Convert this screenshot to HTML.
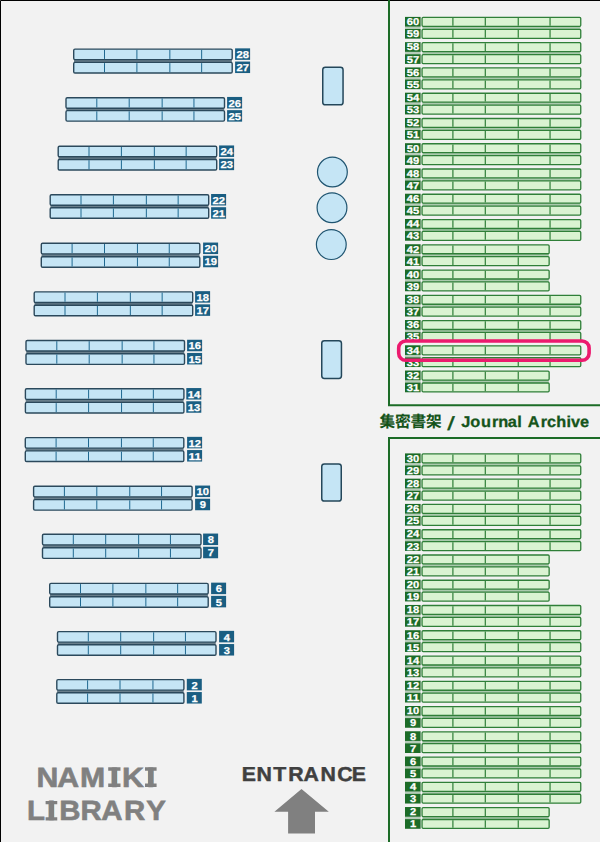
<!DOCTYPE html>
<html lang="ja">
<head>
<meta charset="utf-8">
<title>NAMIKI LIBRARY - Journal Archive map</title>
<style>
html,body{margin:0;padding:0;background:#f2f2f2;}
body{width:600px;height:842px;overflow:hidden;font-family:"Liberation Sans",sans-serif;}
svg{display:block;position:absolute;left:0;top:0;}
text{font-family:"Liberation Sans",sans-serif;font-weight:bold;text-rendering:geometricPrecision;}
.bs{fill:#c5e5f5;stroke:#2b495c;stroke-width:1.4;}
.bsd{fill:none;stroke:#1f6890;stroke-width:1;}
.bl{fill:#1a5e82;}
.gs{fill:#daf3d2;stroke:#2f7f38;stroke-width:1.3;}
.gsd{fill:none;stroke:#2f7f38;stroke-width:1.2;}
.gb{fill:#1c6c27;}
.gl{fill:none;stroke:#1c6c27;stroke-width:2;}
.fr{fill:#c5e5f5;stroke:#24475a;stroke-width:1.5;}
.fc{fill:#c5e5f5;stroke:#1f5470;stroke-width:1.2;}
.n{fill:#fff;stroke:#fff;stroke-width:.25;font-size:10px;text-anchor:middle;}
.ja{fill:#15541a;stroke:#15541a;stroke-width:.3;}
.jp{font-family:"Liberation Sans","Noto Sans CJK JP",sans-serif;fill:#15541a;stroke:#15541a;stroke-width:.08;}
.sl{fill:#15541a;font-weight:normal;stroke:#15541a;stroke-width:.35;}
.nm{fill:#808080;stroke:#808080;stroke-width:.6;}
.en{fill:#404040;stroke:#404040;stroke-width:.45;}
</style>
</head>
<body>
<svg width="600" height="842" viewBox="0 0 600 842">
<rect width="600" height="842" fill="#f2f2f2"/>
<g id="stacks-blue">
<rect x="74" y="59.6" width="157.9" height="2.7" fill="#687e8b"/>
<rect class="bs" x="73.7" y="49.1" width="158.5" height="10.55" rx="1.3"/>
<path class="bsd" d="M104.5 49.8V58.95M136.9 49.8V58.95M169.85 49.8V58.95M201.65 49.8V58.95"/>
<rect class="bl" x="235.1" y="48.35" width="15" height="11.5"/>
<text class="n" x="242.8" y="58.05" textLength="12.5" lengthAdjust="spacingAndGlyphs">28</text>
<rect class="bs" x="73.7" y="62.4" width="158.5" height="10.55" rx="1.3"/>
<path class="bsd" d="M104.5 63.1V72.25M136.9 63.1V72.25M169.85 63.1V72.25M201.65 63.1V72.25"/>
<rect class="bl" x="235.1" y="61.55" width="15" height="11.5"/>
<text class="n" x="242.8" y="71.25" textLength="12.5" lengthAdjust="spacingAndGlyphs">27</text>
<rect x="66.3" y="108.2" width="157.9" height="2.3" fill="#687e8b"/>
<rect class="bs" x="66" y="97.7" width="158.5" height="10.55" rx="1.3"/>
<path class="bsd" d="M96.8 98.4V107.55M129.2 98.4V107.55M162.15 98.4V107.55M193.95 98.4V107.55"/>
<rect class="bl" x="227.1" y="96.95" width="15" height="11.5"/>
<text class="n" x="234.8" y="106.65" textLength="12.5" lengthAdjust="spacingAndGlyphs">26</text>
<rect class="bs" x="66" y="110.6" width="158.5" height="10.55" rx="1.3"/>
<path class="bsd" d="M96.8 111.3V120.45M129.2 111.3V120.45M162.15 111.3V120.45M193.95 111.3V120.45"/>
<rect class="bl" x="227.1" y="110.15" width="15" height="11.5"/>
<text class="n" x="234.8" y="119.85" textLength="12.5" lengthAdjust="spacingAndGlyphs">25</text>
<rect x="58.5" y="156.7" width="157.9" height="2.7" fill="#687e8b"/>
<rect class="bs" x="58.2" y="146.2" width="158.5" height="10.55" rx="1.3"/>
<path class="bsd" d="M89 146.9V156.05M121.4 146.9V156.05M154.35 146.9V156.05M186.15 146.9V156.05"/>
<rect class="bl" x="219.1" y="145.45" width="15" height="11.5"/>
<text class="n" x="226.8" y="155.15" textLength="12.5" lengthAdjust="spacingAndGlyphs">24</text>
<rect class="bs" x="58.2" y="159.5" width="158.5" height="10.55" rx="1.3"/>
<path class="bsd" d="M89 160.2V169.35M121.4 160.2V169.35M154.35 160.2V169.35M186.15 160.2V169.35"/>
<rect class="bl" x="219.1" y="158.65" width="15" height="11.5"/>
<text class="n" x="226.8" y="168.35" textLength="12.5" lengthAdjust="spacingAndGlyphs">23</text>
<rect x="50.5" y="205.25" width="157.9" height="2.35" fill="#687e8b"/>
<rect class="bs" x="50.2" y="194.75" width="158.5" height="10.55" rx="1.3"/>
<path class="bsd" d="M81 195.45V204.6M113.4 195.45V204.6M146.35 195.45V204.6M178.15 195.45V204.6"/>
<rect class="bl" x="211.1" y="194" width="15" height="11.5"/>
<text class="n" x="218.8" y="203.7" textLength="12.5" lengthAdjust="spacingAndGlyphs">22</text>
<rect class="bs" x="50.2" y="207.7" width="158.5" height="10.55" rx="1.3"/>
<path class="bsd" d="M81 208.4V217.55M113.4 208.4V217.55M146.35 208.4V217.55M178.15 208.4V217.55"/>
<rect class="bl" x="211.1" y="207.2" width="15" height="11.5"/>
<text class="n" x="218.8" y="216.9" textLength="12.5" lengthAdjust="spacingAndGlyphs">21</text>
<rect x="41.6" y="253.8" width="157.9" height="2.8" fill="#687e8b"/>
<rect class="bs" x="41.3" y="243.3" width="158.5" height="10.55" rx="1.3"/>
<path class="bsd" d="M72.1 244V253.15M104.5 244V253.15M137.45 244V253.15M169.25 244V253.15"/>
<rect class="bl" x="203.1" y="242.55" width="15" height="11.5"/>
<text class="n" x="210.8" y="252.25" textLength="12.5" lengthAdjust="spacingAndGlyphs">20</text>
<rect class="bs" x="41.3" y="256.7" width="158.5" height="10.55" rx="1.3"/>
<path class="bsd" d="M72.1 257.4V266.55M104.5 257.4V266.55M137.45 257.4V266.55M169.25 257.4V266.55"/>
<rect class="bl" x="203.1" y="255.75" width="15" height="11.5"/>
<text class="n" x="210.8" y="265.45" textLength="12.5" lengthAdjust="spacingAndGlyphs">19</text>
<rect x="34.5" y="302.4" width="157.9" height="2.7" fill="#687e8b"/>
<rect class="bs" x="34.2" y="291.9" width="158.5" height="10.55" rx="1.3"/>
<path class="bsd" d="M65 292.6V301.75M97.4 292.6V301.75M130.35 292.6V301.75M162.15 292.6V301.75"/>
<rect class="bl" x="195.1" y="291.15" width="15" height="11.5"/>
<text class="n" x="202.8" y="300.85" textLength="12.5" lengthAdjust="spacingAndGlyphs">18</text>
<rect class="bs" x="34.2" y="305.2" width="158.5" height="10.55" rx="1.3"/>
<path class="bsd" d="M65 305.9V315.05M97.4 305.9V315.05M130.35 305.9V315.05M162.15 305.9V315.05"/>
<rect class="bl" x="195.1" y="304.35" width="15" height="11.5"/>
<text class="n" x="202.8" y="314.05" textLength="12.5" lengthAdjust="spacingAndGlyphs">17</text>
<rect x="26.3" y="351" width="157.9" height="2.7" fill="#687e8b"/>
<rect class="bs" x="26" y="340.5" width="158.5" height="10.55" rx="1.3"/>
<path class="bsd" d="M56.8 341.2V350.35M89.2 341.2V350.35M122.15 341.2V350.35M153.95 341.2V350.35"/>
<rect class="bl" x="187.1" y="339.75" width="15" height="11.5"/>
<text class="n" x="194.8" y="349.45" textLength="12.5" lengthAdjust="spacingAndGlyphs">16</text>
<rect class="bs" x="26" y="353.8" width="158.5" height="10.55" rx="1.3"/>
<path class="bsd" d="M56.8 354.5V363.65M89.2 354.5V363.65M122.15 354.5V363.65M153.95 354.5V363.65"/>
<rect class="bl" x="187.1" y="352.95" width="15" height="11.5"/>
<text class="n" x="194.8" y="362.65" textLength="12.5" lengthAdjust="spacingAndGlyphs">15</text>
<rect x="25.7" y="399.3" width="157.9" height="3" fill="#687e8b"/>
<rect class="bs" x="25.4" y="388.8" width="158.5" height="10.55" rx="1.3"/>
<path class="bsd" d="M56.2 389.5V398.65M88.6 389.5V398.65M121.55 389.5V398.65M153.35 389.5V398.65"/>
<rect class="bl" x="186.3" y="388.05" width="15" height="11.5"/>
<text class="n" x="194" y="397.75" textLength="12.5" lengthAdjust="spacingAndGlyphs">14</text>
<rect class="bs" x="25.4" y="402.4" width="158.5" height="10.55" rx="1.3"/>
<path class="bsd" d="M56.2 403.1V412.25M88.6 403.1V412.25M121.55 403.1V412.25M153.35 403.1V412.25"/>
<rect class="bl" x="186.3" y="401.25" width="15" height="11.5"/>
<text class="n" x="194" y="410.95" textLength="12.5" lengthAdjust="spacingAndGlyphs">13</text>
<rect x="25.6" y="448.1" width="157.9" height="2.7" fill="#687e8b"/>
<rect class="bs" x="25.3" y="437.6" width="158.5" height="10.55" rx="1.3"/>
<path class="bsd" d="M56.1 438.3V447.45M88.5 438.3V447.45M121.45 438.3V447.45M153.25 438.3V447.45"/>
<rect class="bl" x="187.1" y="436.85" width="15" height="11.5"/>
<text class="n" x="194.8" y="446.55" textLength="12.5" lengthAdjust="spacingAndGlyphs">12</text>
<rect class="bs" x="25.3" y="450.9" width="158.5" height="10.55" rx="1.3"/>
<path class="bsd" d="M56.1 451.6V460.75M88.5 451.6V460.75M121.45 451.6V460.75M153.25 451.6V460.75"/>
<rect class="bl" x="187.1" y="450.05" width="15" height="11.5"/>
<text class="n" x="194.8" y="459.75" textLength="12.5" lengthAdjust="spacingAndGlyphs">11</text>
<rect x="33.9" y="496.8" width="157.9" height="2.7" fill="#687e8b"/>
<rect class="bs" x="33.6" y="486.3" width="158.5" height="10.55" rx="1.3"/>
<path class="bsd" d="M64.4 487V496.15M96.8 487V496.15M129.75 487V496.15M161.55 487V496.15"/>
<rect class="bl" x="195.1" y="485.55" width="15" height="11.5"/>
<text class="n" x="202.8" y="495.25" textLength="12.5" lengthAdjust="spacingAndGlyphs">10</text>
<rect class="bs" x="33.6" y="499.6" width="158.5" height="10.55" rx="1.3"/>
<path class="bsd" d="M64.4 500.3V509.45M96.8 500.3V509.45M129.75 500.3V509.45M161.55 500.3V509.45"/>
<rect class="bl" x="195.1" y="498.75" width="15" height="11.5"/>
<text class="n" x="202.8" y="508.45" textLength="6.2" lengthAdjust="spacingAndGlyphs">9</text>
<rect x="42.8" y="544.8" width="157.9" height="2.9" fill="#687e8b"/>
<rect class="bs" x="42.5" y="534.3" width="158.5" height="10.55" rx="1.3"/>
<path class="bsd" d="M73.3 535V544.15M105.7 535V544.15M138.65 535V544.15M170.45 535V544.15"/>
<rect class="bl" x="203.1" y="533.55" width="15" height="11.5"/>
<text class="n" x="210.8" y="543.25" textLength="6.2" lengthAdjust="spacingAndGlyphs">8</text>
<rect class="bs" x="42.5" y="547.8" width="158.5" height="10.55" rx="1.3"/>
<path class="bsd" d="M73.3 548.5V557.65M105.7 548.5V557.65M138.65 548.5V557.65M170.45 548.5V557.65"/>
<rect class="bl" x="203.1" y="546.75" width="15" height="11.5"/>
<text class="n" x="210.8" y="556.45" textLength="6.2" lengthAdjust="spacingAndGlyphs">7</text>
<rect x="50" y="593.9" width="157.9" height="2.7" fill="#687e8b"/>
<rect class="bs" x="49.7" y="583.4" width="158.5" height="10.55" rx="1.3"/>
<path class="bsd" d="M80.5 584.1V593.25M112.9 584.1V593.25M145.85 584.1V593.25M177.65 584.1V593.25"/>
<rect class="bl" x="211.1" y="582.65" width="15" height="11.5"/>
<text class="n" x="218.8" y="592.35" textLength="6.2" lengthAdjust="spacingAndGlyphs">6</text>
<rect class="bs" x="49.7" y="596.7" width="158.5" height="10.55" rx="1.3"/>
<path class="bsd" d="M80.5 597.4V606.55M112.9 597.4V606.55M145.85 597.4V606.55M177.65 597.4V606.55"/>
<rect class="bl" x="211.1" y="595.85" width="15" height="11.5"/>
<text class="n" x="218.8" y="605.55" textLength="6.2" lengthAdjust="spacingAndGlyphs">5</text>
<rect x="57.8" y="642.1" width="157.9" height="2.5" fill="#687e8b"/>
<rect class="bs" x="57.5" y="631.6" width="158.5" height="10.55" rx="1.3"/>
<path class="bsd" d="M88.3 632.3V641.45M120.7 632.3V641.45M153.65 632.3V641.45M185.45 632.3V641.45"/>
<rect class="bl" x="219.1" y="630.85" width="15" height="11.5"/>
<text class="n" x="226.8" y="640.55" textLength="6.2" lengthAdjust="spacingAndGlyphs">4</text>
<rect class="bs" x="57.5" y="644.7" width="158.5" height="10.55" rx="1.3"/>
<path class="bsd" d="M88.3 645.4V654.55M120.7 645.4V654.55M153.65 645.4V654.55M185.45 645.4V654.55"/>
<rect class="bl" x="219.1" y="644.05" width="15" height="11.5"/>
<text class="n" x="226.8" y="653.75" textLength="6.2" lengthAdjust="spacingAndGlyphs">3</text>
<rect x="57.1" y="690.1" width="126.5" height="2.5" fill="#687e8b"/>
<rect class="bs" x="56.8" y="679.6" width="127.1" height="10.55" rx="1.3"/>
<path class="bsd" d="M87.6 680.3V689.45M120 680.3V689.45M152.95 680.3V689.45"/>
<rect class="bl" x="186.8" y="678.85" width="15" height="11.5"/>
<text class="n" x="194.5" y="688.55" textLength="6.2" lengthAdjust="spacingAndGlyphs">2</text>
<rect class="bs" x="56.8" y="692.7" width="127.1" height="10.55" rx="1.3"/>
<path class="bsd" d="M87.6 693.4V702.55M120 693.4V702.55M152.95 693.4V702.55"/>
<rect class="bl" x="186.8" y="692.05" width="15" height="11.5"/>
<text class="n" x="194.5" y="701.75" textLength="6.2" lengthAdjust="spacingAndGlyphs">1</text>
</g>
<g id="furniture">
<rect class="fr" x="322.75" y="67.25" width="20.3" height="37.5" rx="2.6"/>
<rect class="fr" x="321.75" y="340.75" width="19.7" height="37.7" rx="2.6"/>
<rect class="fr" x="321.75" y="463.95" width="19.5" height="37.1" rx="2.6"/>
<circle class="fc" cx="332.4" cy="172" r="14.9"/>
<circle class="fc" cx="332" cy="207.7" r="14.9"/>
<circle class="fc" cx="331.3" cy="244.6" r="14.9"/>
</g>
<g id="stacks-green">
<rect x="422.4" y="25.9" width="158" height="3.8" fill="#6fa874" fill-opacity=".55"/>
<rect x="405" y="25.9" width="15.6" height="3.5" fill="#1c6c27" fill-opacity=".28"/>
<rect class="gs" x="422.05" y="17.45" width="158.7" height="8.95" rx="1.1"/>
<path class="gsd" d="M452.9 18.1V25.75M485.3 18.1V25.75M518.25 18.1V25.75M550.05 18.1V25.75"/>
<rect class="gb" x="405" y="16.9" width="15.6" height="9.65"/>
<text class="n" x="413" y="25.2" textLength="12.5" lengthAdjust="spacingAndGlyphs">60</text>
<rect class="gs" x="422.05" y="29.35" width="158.7" height="8.95" rx="1.1"/>
<path class="gsd" d="M452.9 30V37.65M485.3 30V37.65M518.25 30V37.65M550.05 30V37.65"/>
<rect class="gb" x="405" y="29" width="15.6" height="9.65"/>
<text class="n" x="413" y="37.3" textLength="12.5" lengthAdjust="spacingAndGlyphs">59</text>
<rect x="422.4" y="51.16" width="158" height="3.8" fill="#6fa874" fill-opacity=".55"/>
<rect x="405" y="51.16" width="15.6" height="3.5" fill="#1c6c27" fill-opacity=".28"/>
<rect class="gs" x="422.05" y="42.71" width="158.7" height="8.95" rx="1.1"/>
<path class="gsd" d="M452.9 43.36V51.01M485.3 43.36V51.01M518.25 43.36V51.01M550.05 43.36V51.01"/>
<rect class="gb" x="405" y="42.16" width="15.6" height="9.65"/>
<text class="n" x="413" y="50.46" textLength="12.5" lengthAdjust="spacingAndGlyphs">58</text>
<rect class="gs" x="422.05" y="54.61" width="158.7" height="8.95" rx="1.1"/>
<path class="gsd" d="M452.9 55.26V62.91M485.3 55.26V62.91M518.25 55.26V62.91M550.05 55.26V62.91"/>
<rect class="gb" x="405" y="54.26" width="15.6" height="9.65"/>
<text class="n" x="413" y="62.56" textLength="12.5" lengthAdjust="spacingAndGlyphs">57</text>
<rect x="422.4" y="76.42" width="158" height="3.8" fill="#6fa874" fill-opacity=".55"/>
<rect x="405" y="76.42" width="15.6" height="3.5" fill="#1c6c27" fill-opacity=".28"/>
<rect class="gs" x="422.05" y="67.97" width="158.7" height="8.95" rx="1.1"/>
<path class="gsd" d="M452.9 68.62V76.27M485.3 68.62V76.27M518.25 68.62V76.27M550.05 68.62V76.27"/>
<rect class="gb" x="405" y="67.42" width="15.6" height="9.65"/>
<text class="n" x="413" y="75.72" textLength="12.5" lengthAdjust="spacingAndGlyphs">56</text>
<rect class="gs" x="422.05" y="79.87" width="158.7" height="8.95" rx="1.1"/>
<path class="gsd" d="M452.9 80.52V88.17M485.3 80.52V88.17M518.25 80.52V88.17M550.05 80.52V88.17"/>
<rect class="gb" x="405" y="79.52" width="15.6" height="9.65"/>
<text class="n" x="413" y="87.82" textLength="12.5" lengthAdjust="spacingAndGlyphs">55</text>
<rect x="422.4" y="101.68" width="158" height="3.8" fill="#6fa874" fill-opacity=".55"/>
<rect x="405" y="101.68" width="15.6" height="3.5" fill="#1c6c27" fill-opacity=".28"/>
<rect class="gs" x="422.05" y="93.23" width="158.7" height="8.95" rx="1.1"/>
<path class="gsd" d="M452.9 93.88V101.53M485.3 93.88V101.53M518.25 93.88V101.53M550.05 93.88V101.53"/>
<rect class="gb" x="405" y="92.68" width="15.6" height="9.65"/>
<text class="n" x="413" y="100.98" textLength="12.5" lengthAdjust="spacingAndGlyphs">54</text>
<rect class="gs" x="422.05" y="105.13" width="158.7" height="8.95" rx="1.1"/>
<path class="gsd" d="M452.9 105.78V113.43M485.3 105.78V113.43M518.25 105.78V113.43M550.05 105.78V113.43"/>
<rect class="gb" x="405" y="104.78" width="15.6" height="9.65"/>
<text class="n" x="413" y="113.08" textLength="12.5" lengthAdjust="spacingAndGlyphs">53</text>
<rect x="422.4" y="126.94" width="158" height="3.8" fill="#6fa874" fill-opacity=".55"/>
<rect x="405" y="126.94" width="15.6" height="3.5" fill="#1c6c27" fill-opacity=".28"/>
<rect class="gs" x="422.05" y="118.49" width="158.7" height="8.95" rx="1.1"/>
<path class="gsd" d="M452.9 119.14V126.79M485.3 119.14V126.79M518.25 119.14V126.79M550.05 119.14V126.79"/>
<rect class="gb" x="405" y="117.94" width="15.6" height="9.65"/>
<text class="n" x="413" y="126.24" textLength="12.5" lengthAdjust="spacingAndGlyphs">52</text>
<rect class="gs" x="422.05" y="130.39" width="158.7" height="8.95" rx="1.1"/>
<path class="gsd" d="M452.9 131.04V138.69M485.3 131.04V138.69M518.25 131.04V138.69M550.05 131.04V138.69"/>
<rect class="gb" x="405" y="130.04" width="15.6" height="9.65"/>
<text class="n" x="413" y="138.34" textLength="12.5" lengthAdjust="spacingAndGlyphs">51</text>
<rect x="422.4" y="152.2" width="158" height="3.8" fill="#6fa874" fill-opacity=".55"/>
<rect x="405" y="152.2" width="15.6" height="3.5" fill="#1c6c27" fill-opacity=".28"/>
<rect class="gs" x="422.05" y="143.75" width="158.7" height="8.95" rx="1.1"/>
<path class="gsd" d="M452.9 144.4V152.05M485.3 144.4V152.05M518.25 144.4V152.05M550.05 144.4V152.05"/>
<rect class="gb" x="405" y="143.2" width="15.6" height="9.65"/>
<text class="n" x="413" y="151.5" textLength="12.5" lengthAdjust="spacingAndGlyphs">50</text>
<rect class="gs" x="422.05" y="155.65" width="158.7" height="8.95" rx="1.1"/>
<path class="gsd" d="M452.9 156.3V163.95M485.3 156.3V163.95M518.25 156.3V163.95M550.05 156.3V163.95"/>
<rect class="gb" x="405" y="155.3" width="15.6" height="9.65"/>
<text class="n" x="413" y="163.6" textLength="12.5" lengthAdjust="spacingAndGlyphs">49</text>
<rect x="422.4" y="177.46" width="158" height="3.8" fill="#6fa874" fill-opacity=".55"/>
<rect x="405" y="177.46" width="15.6" height="3.5" fill="#1c6c27" fill-opacity=".28"/>
<rect class="gs" x="422.05" y="169.01" width="158.7" height="8.95" rx="1.1"/>
<path class="gsd" d="M452.9 169.66V177.31M485.3 169.66V177.31M518.25 169.66V177.31M550.05 169.66V177.31"/>
<rect class="gb" x="405" y="168.46" width="15.6" height="9.65"/>
<text class="n" x="413" y="176.76" textLength="12.5" lengthAdjust="spacingAndGlyphs">48</text>
<rect class="gs" x="422.05" y="180.91" width="158.7" height="8.95" rx="1.1"/>
<path class="gsd" d="M452.9 181.56V189.21M485.3 181.56V189.21M518.25 181.56V189.21M550.05 181.56V189.21"/>
<rect class="gb" x="405" y="180.56" width="15.6" height="9.65"/>
<text class="n" x="413" y="188.86" textLength="12.5" lengthAdjust="spacingAndGlyphs">47</text>
<rect x="422.4" y="202.72" width="158" height="3.8" fill="#6fa874" fill-opacity=".55"/>
<rect x="405" y="202.72" width="15.6" height="3.5" fill="#1c6c27" fill-opacity=".28"/>
<rect class="gs" x="422.05" y="194.27" width="158.7" height="8.95" rx="1.1"/>
<path class="gsd" d="M452.9 194.92V202.57M485.3 194.92V202.57M518.25 194.92V202.57M550.05 194.92V202.57"/>
<rect class="gb" x="405" y="193.72" width="15.6" height="9.65"/>
<text class="n" x="413" y="202.02" textLength="12.5" lengthAdjust="spacingAndGlyphs">46</text>
<rect class="gs" x="422.05" y="206.17" width="158.7" height="8.95" rx="1.1"/>
<path class="gsd" d="M452.9 206.82V214.47M485.3 206.82V214.47M518.25 206.82V214.47M550.05 206.82V214.47"/>
<rect class="gb" x="405" y="205.82" width="15.6" height="9.65"/>
<text class="n" x="413" y="214.12" textLength="12.5" lengthAdjust="spacingAndGlyphs">45</text>
<rect x="422.4" y="227.98" width="158" height="3.8" fill="#6fa874" fill-opacity=".55"/>
<rect x="405" y="227.98" width="15.6" height="3.5" fill="#1c6c27" fill-opacity=".28"/>
<rect class="gs" x="422.05" y="219.53" width="158.7" height="8.95" rx="1.1"/>
<path class="gsd" d="M452.9 220.18V227.83M485.3 220.18V227.83M518.25 220.18V227.83M550.05 220.18V227.83"/>
<rect class="gb" x="405" y="218.98" width="15.6" height="9.65"/>
<text class="n" x="413" y="227.28" textLength="12.5" lengthAdjust="spacingAndGlyphs">44</text>
<rect class="gs" x="422.05" y="231.43" width="158.7" height="8.95" rx="1.1"/>
<path class="gsd" d="M452.9 232.08V239.73M485.3 232.08V239.73M518.25 232.08V239.73M550.05 232.08V239.73"/>
<rect class="gb" x="405" y="231.08" width="15.6" height="9.65"/>
<text class="n" x="413" y="239.38" textLength="12.5" lengthAdjust="spacingAndGlyphs">43</text>
<rect x="422.4" y="253.24" width="126.4" height="3.8" fill="#6fa874" fill-opacity=".55"/>
<rect x="405" y="253.24" width="15.6" height="3.5" fill="#1c6c27" fill-opacity=".28"/>
<rect class="gs" x="422.05" y="244.79" width="127.1" height="8.95" rx="1.1"/>
<path class="gsd" d="M452.9 245.44V253.09M485.3 245.44V253.09M518.25 245.44V253.09"/>
<rect class="gb" x="405" y="244.24" width="15.6" height="9.65"/>
<text class="n" x="413" y="252.54" textLength="12.5" lengthAdjust="spacingAndGlyphs">42</text>
<rect class="gs" x="422.05" y="256.69" width="127.1" height="8.95" rx="1.1"/>
<path class="gsd" d="M452.9 257.34V264.99M485.3 257.34V264.99M518.25 257.34V264.99"/>
<rect class="gb" x="405" y="256.34" width="15.6" height="9.65"/>
<text class="n" x="413" y="264.64" textLength="12.5" lengthAdjust="spacingAndGlyphs">41</text>
<rect x="422.4" y="278.5" width="126.4" height="3.8" fill="#6fa874" fill-opacity=".55"/>
<rect x="405" y="278.5" width="15.6" height="3.5" fill="#1c6c27" fill-opacity=".28"/>
<rect class="gs" x="422.05" y="270.05" width="127.1" height="8.95" rx="1.1"/>
<path class="gsd" d="M452.9 270.7V278.35M485.3 270.7V278.35M518.25 270.7V278.35"/>
<rect class="gb" x="405" y="269.5" width="15.6" height="9.65"/>
<text class="n" x="413" y="277.8" textLength="12.5" lengthAdjust="spacingAndGlyphs">40</text>
<rect class="gs" x="422.05" y="281.95" width="127.1" height="8.95" rx="1.1"/>
<path class="gsd" d="M452.9 282.6V290.25M485.3 282.6V290.25M518.25 282.6V290.25"/>
<rect class="gb" x="405" y="281.6" width="15.6" height="9.65"/>
<text class="n" x="413" y="289.9" textLength="12.5" lengthAdjust="spacingAndGlyphs">39</text>
<rect x="422.4" y="303.76" width="158" height="3.8" fill="#6fa874" fill-opacity=".55"/>
<rect x="405" y="303.76" width="15.6" height="3.5" fill="#1c6c27" fill-opacity=".28"/>
<rect class="gs" x="422.05" y="295.31" width="158.7" height="8.95" rx="1.1"/>
<path class="gsd" d="M452.9 295.96V303.61M485.3 295.96V303.61M518.25 295.96V303.61M550.05 295.96V303.61"/>
<rect class="gb" x="405" y="294.76" width="15.6" height="9.65"/>
<text class="n" x="413" y="303.06" textLength="12.5" lengthAdjust="spacingAndGlyphs">38</text>
<rect class="gs" x="422.05" y="307.21" width="158.7" height="8.95" rx="1.1"/>
<path class="gsd" d="M452.9 307.86V315.51M485.3 307.86V315.51M518.25 307.86V315.51M550.05 307.86V315.51"/>
<rect class="gb" x="405" y="306.86" width="15.6" height="9.65"/>
<text class="n" x="413" y="315.16" textLength="12.5" lengthAdjust="spacingAndGlyphs">37</text>
<rect x="422.4" y="329.02" width="158" height="3.8" fill="#6fa874" fill-opacity=".55"/>
<rect x="405" y="329.02" width="15.6" height="3.5" fill="#1c6c27" fill-opacity=".28"/>
<rect class="gs" x="422.05" y="320.57" width="158.7" height="8.95" rx="1.1"/>
<path class="gsd" d="M452.9 321.22V328.87M485.3 321.22V328.87M518.25 321.22V328.87M550.05 321.22V328.87"/>
<rect class="gb" x="405" y="320.02" width="15.6" height="9.65"/>
<text class="n" x="413" y="328.32" textLength="12.5" lengthAdjust="spacingAndGlyphs">36</text>
<rect class="gs" x="422.05" y="332.47" width="158.7" height="8.95" rx="1.1"/>
<path class="gsd" d="M452.9 333.12V340.77M485.3 333.12V340.77M518.25 333.12V340.77M550.05 333.12V340.77"/>
<rect class="gb" x="405" y="332.12" width="15.6" height="9.65"/>
<text class="n" x="413" y="340.42" textLength="12.5" lengthAdjust="spacingAndGlyphs">35</text>
<rect x="405" y="354.28" width="15.6" height="3.5" fill="#1c6c27" fill-opacity=".28"/>
<rect class="gs" x="422.05" y="345.83" width="158.7" height="8.95" rx="1.1"/>
<path class="gsd" d="M452.9 346.48V354.13M485.3 346.48V354.13M518.25 346.48V354.13M550.05 346.48V354.13"/>
<rect class="gb" x="405" y="345.28" width="15.6" height="9.65"/>
<text class="n" x="413" y="353.58" textLength="12.5" lengthAdjust="spacingAndGlyphs">34</text>
<rect class="gs" x="422.05" y="357.73" width="158.7" height="8.95" rx="1.1"/>
<path class="gsd" d="M452.9 358.38V366.03M485.3 358.38V366.03M518.25 358.38V366.03M550.05 358.38V366.03"/>
<rect class="gb" x="405" y="357.38" width="15.6" height="9.65"/>
<text class="n" x="413" y="365.68" textLength="12.5" lengthAdjust="spacingAndGlyphs">33</text>
<rect x="422.4" y="379.54" width="126.4" height="3.8" fill="#6fa874" fill-opacity=".55"/>
<rect x="405" y="379.54" width="15.6" height="3.5" fill="#1c6c27" fill-opacity=".28"/>
<rect class="gs" x="422.05" y="371.09" width="127.1" height="8.95" rx="1.1"/>
<path class="gsd" d="M452.9 371.74V379.39M485.3 371.74V379.39M518.25 371.74V379.39"/>
<rect class="gb" x="405" y="370.54" width="15.6" height="9.65"/>
<text class="n" x="413" y="378.84" textLength="12.5" lengthAdjust="spacingAndGlyphs">32</text>
<rect class="gs" x="422.05" y="382.99" width="127.1" height="8.95" rx="1.1"/>
<path class="gsd" d="M452.9 383.64V391.29M485.3 383.64V391.29M518.25 383.64V391.29"/>
<rect class="gb" x="405" y="382.64" width="15.6" height="9.65"/>
<text class="n" x="413" y="390.94" textLength="12.5" lengthAdjust="spacingAndGlyphs">31</text>
<rect x="422.4" y="462.4" width="158" height="3.8" fill="#6fa874" fill-opacity=".55"/>
<rect x="405" y="462.4" width="15.6" height="3.5" fill="#1c6c27" fill-opacity=".28"/>
<rect class="gs" x="422.05" y="453.95" width="158.7" height="8.95" rx="1.1"/>
<path class="gsd" d="M452.9 454.6V462.25M485.3 454.6V462.25M518.25 454.6V462.25M550.05 454.6V462.25"/>
<rect class="gb" x="405" y="453.4" width="15.6" height="9.65"/>
<text class="n" x="413" y="461.7" textLength="12.5" lengthAdjust="spacingAndGlyphs">30</text>
<rect class="gs" x="422.05" y="465.85" width="158.7" height="8.95" rx="1.1"/>
<path class="gsd" d="M452.9 466.5V474.15M485.3 466.5V474.15M518.25 466.5V474.15M550.05 466.5V474.15"/>
<rect class="gb" x="405" y="465.5" width="15.6" height="9.65"/>
<text class="n" x="413" y="473.8" textLength="12.5" lengthAdjust="spacingAndGlyphs">29</text>
<rect x="422.4" y="487.66" width="158" height="3.8" fill="#6fa874" fill-opacity=".55"/>
<rect x="405" y="487.66" width="15.6" height="3.5" fill="#1c6c27" fill-opacity=".28"/>
<rect class="gs" x="422.05" y="479.21" width="158.7" height="8.95" rx="1.1"/>
<path class="gsd" d="M452.9 479.86V487.51M485.3 479.86V487.51M518.25 479.86V487.51M550.05 479.86V487.51"/>
<rect class="gb" x="405" y="478.66" width="15.6" height="9.65"/>
<text class="n" x="413" y="486.96" textLength="12.5" lengthAdjust="spacingAndGlyphs">28</text>
<rect class="gs" x="422.05" y="491.11" width="158.7" height="8.95" rx="1.1"/>
<path class="gsd" d="M452.9 491.76V499.41M485.3 491.76V499.41M518.25 491.76V499.41M550.05 491.76V499.41"/>
<rect class="gb" x="405" y="490.76" width="15.6" height="9.65"/>
<text class="n" x="413" y="499.06" textLength="12.5" lengthAdjust="spacingAndGlyphs">27</text>
<rect x="422.4" y="512.92" width="158" height="3.8" fill="#6fa874" fill-opacity=".55"/>
<rect x="405" y="512.92" width="15.6" height="3.5" fill="#1c6c27" fill-opacity=".28"/>
<rect class="gs" x="422.05" y="504.47" width="158.7" height="8.95" rx="1.1"/>
<path class="gsd" d="M452.9 505.12V512.77M485.3 505.12V512.77M518.25 505.12V512.77M550.05 505.12V512.77"/>
<rect class="gb" x="405" y="503.92" width="15.6" height="9.65"/>
<text class="n" x="413" y="512.22" textLength="12.5" lengthAdjust="spacingAndGlyphs">26</text>
<rect class="gs" x="422.05" y="516.37" width="158.7" height="8.95" rx="1.1"/>
<path class="gsd" d="M452.9 517.02V524.67M485.3 517.02V524.67M518.25 517.02V524.67M550.05 517.02V524.67"/>
<rect class="gb" x="405" y="516.02" width="15.6" height="9.65"/>
<text class="n" x="413" y="524.32" textLength="12.5" lengthAdjust="spacingAndGlyphs">25</text>
<rect x="422.4" y="538.18" width="158" height="3.8" fill="#6fa874" fill-opacity=".55"/>
<rect x="405" y="538.18" width="15.6" height="3.5" fill="#1c6c27" fill-opacity=".28"/>
<rect class="gs" x="422.05" y="529.73" width="158.7" height="8.95" rx="1.1"/>
<path class="gsd" d="M452.9 530.38V538.03M485.3 530.38V538.03M518.25 530.38V538.03M550.05 530.38V538.03"/>
<rect class="gb" x="405" y="529.18" width="15.6" height="9.65"/>
<text class="n" x="413" y="537.48" textLength="12.5" lengthAdjust="spacingAndGlyphs">24</text>
<rect class="gs" x="422.05" y="541.63" width="158.7" height="8.95" rx="1.1"/>
<path class="gsd" d="M452.9 542.28V549.93M485.3 542.28V549.93M518.25 542.28V549.93M550.05 542.28V549.93"/>
<rect class="gb" x="405" y="541.28" width="15.6" height="9.65"/>
<text class="n" x="413" y="549.58" textLength="12.5" lengthAdjust="spacingAndGlyphs">23</text>
<rect x="422.4" y="563.44" width="126.4" height="3.8" fill="#6fa874" fill-opacity=".55"/>
<rect x="405" y="563.44" width="15.6" height="3.5" fill="#1c6c27" fill-opacity=".28"/>
<rect class="gs" x="422.05" y="554.99" width="127.1" height="8.95" rx="1.1"/>
<path class="gsd" d="M452.9 555.64V563.29M485.3 555.64V563.29M518.25 555.64V563.29"/>
<rect class="gb" x="405" y="554.44" width="15.6" height="9.65"/>
<text class="n" x="413" y="562.74" textLength="12.5" lengthAdjust="spacingAndGlyphs">22</text>
<rect class="gs" x="422.05" y="566.89" width="127.1" height="8.95" rx="1.1"/>
<path class="gsd" d="M452.9 567.54V575.19M485.3 567.54V575.19M518.25 567.54V575.19"/>
<rect class="gb" x="405" y="566.54" width="15.6" height="9.65"/>
<text class="n" x="413" y="574.84" textLength="12.5" lengthAdjust="spacingAndGlyphs">21</text>
<rect x="422.4" y="588.7" width="126.4" height="3.8" fill="#6fa874" fill-opacity=".55"/>
<rect x="405" y="588.7" width="15.6" height="3.5" fill="#1c6c27" fill-opacity=".28"/>
<rect class="gs" x="422.05" y="580.25" width="127.1" height="8.95" rx="1.1"/>
<path class="gsd" d="M452.9 580.9V588.55M485.3 580.9V588.55M518.25 580.9V588.55"/>
<rect class="gb" x="405" y="579.7" width="15.6" height="9.65"/>
<text class="n" x="413" y="588" textLength="12.5" lengthAdjust="spacingAndGlyphs">20</text>
<rect class="gs" x="422.05" y="592.15" width="127.1" height="8.95" rx="1.1"/>
<path class="gsd" d="M452.9 592.8V600.45M485.3 592.8V600.45M518.25 592.8V600.45"/>
<rect class="gb" x="405" y="591.8" width="15.6" height="9.65"/>
<text class="n" x="413" y="600.1" textLength="12.5" lengthAdjust="spacingAndGlyphs">19</text>
<rect x="422.4" y="613.96" width="158" height="3.8" fill="#6fa874" fill-opacity=".55"/>
<rect x="405" y="613.96" width="15.6" height="3.5" fill="#1c6c27" fill-opacity=".28"/>
<rect class="gs" x="422.05" y="605.51" width="158.7" height="8.95" rx="1.1"/>
<path class="gsd" d="M452.9 606.16V613.81M485.3 606.16V613.81M518.25 606.16V613.81M550.05 606.16V613.81"/>
<rect class="gb" x="405" y="604.96" width="15.6" height="9.65"/>
<text class="n" x="413" y="613.26" textLength="12.5" lengthAdjust="spacingAndGlyphs">18</text>
<rect class="gs" x="422.05" y="617.41" width="158.7" height="8.95" rx="1.1"/>
<path class="gsd" d="M452.9 618.06V625.71M485.3 618.06V625.71M518.25 618.06V625.71M550.05 618.06V625.71"/>
<rect class="gb" x="405" y="617.06" width="15.6" height="9.65"/>
<text class="n" x="413" y="625.36" textLength="12.5" lengthAdjust="spacingAndGlyphs">17</text>
<rect x="422.4" y="639.22" width="158" height="3.8" fill="#6fa874" fill-opacity=".55"/>
<rect x="405" y="639.22" width="15.6" height="3.5" fill="#1c6c27" fill-opacity=".28"/>
<rect class="gs" x="422.05" y="630.77" width="158.7" height="8.95" rx="1.1"/>
<path class="gsd" d="M452.9 631.42V639.07M485.3 631.42V639.07M518.25 631.42V639.07M550.05 631.42V639.07"/>
<rect class="gb" x="405" y="630.22" width="15.6" height="9.65"/>
<text class="n" x="413" y="638.52" textLength="12.5" lengthAdjust="spacingAndGlyphs">16</text>
<rect class="gs" x="422.05" y="642.67" width="158.7" height="8.95" rx="1.1"/>
<path class="gsd" d="M452.9 643.32V650.97M485.3 643.32V650.97M518.25 643.32V650.97M550.05 643.32V650.97"/>
<rect class="gb" x="405" y="642.32" width="15.6" height="9.65"/>
<text class="n" x="413" y="650.62" textLength="12.5" lengthAdjust="spacingAndGlyphs">15</text>
<rect x="422.4" y="664.48" width="158" height="3.8" fill="#6fa874" fill-opacity=".55"/>
<rect x="405" y="664.48" width="15.6" height="3.5" fill="#1c6c27" fill-opacity=".28"/>
<rect class="gs" x="422.05" y="656.03" width="158.7" height="8.95" rx="1.1"/>
<path class="gsd" d="M452.9 656.68V664.33M485.3 656.68V664.33M518.25 656.68V664.33M550.05 656.68V664.33"/>
<rect class="gb" x="405" y="655.48" width="15.6" height="9.65"/>
<text class="n" x="413" y="663.78" textLength="12.5" lengthAdjust="spacingAndGlyphs">14</text>
<rect class="gs" x="422.05" y="667.93" width="158.7" height="8.95" rx="1.1"/>
<path class="gsd" d="M452.9 668.58V676.23M485.3 668.58V676.23M518.25 668.58V676.23M550.05 668.58V676.23"/>
<rect class="gb" x="405" y="667.58" width="15.6" height="9.65"/>
<text class="n" x="413" y="675.88" textLength="12.5" lengthAdjust="spacingAndGlyphs">13</text>
<rect x="422.4" y="689.74" width="158" height="3.8" fill="#6fa874" fill-opacity=".55"/>
<rect x="405" y="689.74" width="15.6" height="3.5" fill="#1c6c27" fill-opacity=".28"/>
<rect class="gs" x="422.05" y="681.29" width="158.7" height="8.95" rx="1.1"/>
<path class="gsd" d="M452.9 681.94V689.59M485.3 681.94V689.59M518.25 681.94V689.59M550.05 681.94V689.59"/>
<rect class="gb" x="405" y="680.74" width="15.6" height="9.65"/>
<text class="n" x="413" y="689.04" textLength="12.5" lengthAdjust="spacingAndGlyphs">12</text>
<rect class="gs" x="422.05" y="693.19" width="158.7" height="8.95" rx="1.1"/>
<path class="gsd" d="M452.9 693.84V701.49M485.3 693.84V701.49M518.25 693.84V701.49M550.05 693.84V701.49"/>
<rect class="gb" x="405" y="692.84" width="15.6" height="9.65"/>
<text class="n" x="413" y="701.14" textLength="12.5" lengthAdjust="spacingAndGlyphs">11</text>
<rect x="422.4" y="715" width="158" height="3.8" fill="#6fa874" fill-opacity=".55"/>
<rect x="405" y="715" width="15.6" height="3.5" fill="#1c6c27" fill-opacity=".28"/>
<rect class="gs" x="422.05" y="706.55" width="158.7" height="8.95" rx="1.1"/>
<path class="gsd" d="M452.9 707.2V714.85M485.3 707.2V714.85M518.25 707.2V714.85M550.05 707.2V714.85"/>
<rect class="gb" x="405" y="706" width="15.6" height="9.65"/>
<text class="n" x="413" y="714.3" textLength="12.5" lengthAdjust="spacingAndGlyphs">10</text>
<rect class="gs" x="422.05" y="718.45" width="158.7" height="8.95" rx="1.1"/>
<path class="gsd" d="M452.9 719.1V726.75M485.3 719.1V726.75M518.25 719.1V726.75M550.05 719.1V726.75"/>
<rect class="gb" x="405" y="718.1" width="15.6" height="9.65"/>
<text class="n" x="413" y="726.4" textLength="6.2" lengthAdjust="spacingAndGlyphs">9</text>
<rect x="422.4" y="740.26" width="158" height="3.8" fill="#6fa874" fill-opacity=".55"/>
<rect x="405" y="740.26" width="15.6" height="3.5" fill="#1c6c27" fill-opacity=".28"/>
<rect class="gs" x="422.05" y="731.81" width="158.7" height="8.95" rx="1.1"/>
<path class="gsd" d="M452.9 732.46V740.11M485.3 732.46V740.11M518.25 732.46V740.11M550.05 732.46V740.11"/>
<rect class="gb" x="405" y="731.26" width="15.6" height="9.65"/>
<text class="n" x="413" y="739.56" textLength="6.2" lengthAdjust="spacingAndGlyphs">8</text>
<rect class="gs" x="422.05" y="743.71" width="158.7" height="8.95" rx="1.1"/>
<path class="gsd" d="M452.9 744.36V752.01M485.3 744.36V752.01M518.25 744.36V752.01M550.05 744.36V752.01"/>
<rect class="gb" x="405" y="743.36" width="15.6" height="9.65"/>
<text class="n" x="413" y="751.66" textLength="6.2" lengthAdjust="spacingAndGlyphs">7</text>
<rect x="422.4" y="765.52" width="158" height="3.8" fill="#6fa874" fill-opacity=".55"/>
<rect x="405" y="765.52" width="15.6" height="3.5" fill="#1c6c27" fill-opacity=".28"/>
<rect class="gs" x="422.05" y="757.07" width="158.7" height="8.95" rx="1.1"/>
<path class="gsd" d="M452.9 757.72V765.37M485.3 757.72V765.37M518.25 757.72V765.37M550.05 757.72V765.37"/>
<rect class="gb" x="405" y="756.52" width="15.6" height="9.65"/>
<text class="n" x="413" y="764.82" textLength="6.2" lengthAdjust="spacingAndGlyphs">6</text>
<rect class="gs" x="422.05" y="768.97" width="158.7" height="8.95" rx="1.1"/>
<path class="gsd" d="M452.9 769.62V777.27M485.3 769.62V777.27M518.25 769.62V777.27M550.05 769.62V777.27"/>
<rect class="gb" x="405" y="768.62" width="15.6" height="9.65"/>
<text class="n" x="413" y="776.92" textLength="6.2" lengthAdjust="spacingAndGlyphs">5</text>
<rect x="422.4" y="790.78" width="158" height="3.8" fill="#6fa874" fill-opacity=".55"/>
<rect x="405" y="790.78" width="15.6" height="3.5" fill="#1c6c27" fill-opacity=".28"/>
<rect class="gs" x="422.05" y="782.33" width="158.7" height="8.95" rx="1.1"/>
<path class="gsd" d="M452.9 782.98V790.63M485.3 782.98V790.63M518.25 782.98V790.63M550.05 782.98V790.63"/>
<rect class="gb" x="405" y="781.78" width="15.6" height="9.65"/>
<text class="n" x="413" y="790.08" textLength="6.2" lengthAdjust="spacingAndGlyphs">4</text>
<rect class="gs" x="422.05" y="794.23" width="158.7" height="8.95" rx="1.1"/>
<path class="gsd" d="M452.9 794.88V802.53M485.3 794.88V802.53M518.25 794.88V802.53M550.05 794.88V802.53"/>
<rect class="gb" x="405" y="793.88" width="15.6" height="9.65"/>
<text class="n" x="413" y="802.18" textLength="6.2" lengthAdjust="spacingAndGlyphs">3</text>
<rect x="422.4" y="816.04" width="126.4" height="3.8" fill="#6fa874" fill-opacity=".55"/>
<rect x="405" y="816.04" width="15.6" height="3.5" fill="#1c6c27" fill-opacity=".28"/>
<rect class="gs" x="422.05" y="807.59" width="127.1" height="8.95" rx="1.1"/>
<path class="gsd" d="M452.9 808.24V815.89M485.3 808.24V815.89M518.25 808.24V815.89"/>
<rect class="gb" x="405" y="807.04" width="15.6" height="9.65"/>
<text class="n" x="413" y="815.34" textLength="6.2" lengthAdjust="spacingAndGlyphs">2</text>
<rect class="gs" x="422.05" y="819.49" width="127.1" height="8.95" rx="1.1"/>
<path class="gsd" d="M452.9 820.14V827.79M485.3 820.14V827.79M518.25 820.14V827.79"/>
<rect class="gb" x="405" y="819.14" width="15.6" height="9.65"/>
<text class="n" x="413" y="827.44" textLength="6.2" lengthAdjust="spacingAndGlyphs">1</text>
</g>
<rect id="highlight" x="398.7" y="341" width="190.4" height="19.2" rx="7" fill="none" stroke="#ec1a6e" stroke-width="3.6"/>
<text id="jp" class="jp" x="379.6 395.05 410.5 425.95" y="427" font-size="15.7">集密書架</text>
<text class="sl" transform="translate(447.3 429.6) scale(1.42 1)" font-size="19">/</text>
<text class="ja" transform="scale(1.0430 1)" x="442.13 450.85 461.19 471.61 477.76 486.91 495.99" y="426.5" font-size="15.7">Journal</text>
<text class="ja" transform="scale(1.0380 1)" x="508.54 520.94 527.08 535.94 545.87 550.21 558.88" y="426.5" font-size="15.7">Archive</text>
<text class="nm" transform="scale(1.0900 1)" x="33.46 52.61 73.34 101.05 112.02 134.49" y="786.6" font-size="27.76">NAMIKI</text>
<text class="nm" transform="scale(1.0605 1)" x="25.54 44.64 55.8 75.85 95.49 116.92 137.81" y="820.2" font-size="27.76">LIBRARY</text>
<path fill="#808080" d="M108.2 767.3H120.5v3.4H117.05V783.6H120.5V787H108.2v-3.4H111.65V770.7H108.2z"/>
<path fill="#808080" d="M145 767.3H156.6v3.4H153.5V783.6H156.6V787H145v-3.4H148.1V770.7H145z"/>
<path fill="#808080" d="M45.6 800.9H57.25v3.4H54.12V817.2H57.25V820.6H45.6v-3.4H48.72V804.3H45.6z"/>
<text class="en" transform="scale(1.0550 1)" x="229.09 243.18 258.93 273.18 287.62 303.79 319.64 333.44" y="781.1" font-size="20.2">ENTRANCE</text>
<path id="arrow" fill="#808080" d="M301.5 789.1L328.8 811.8H315V833.5H288.1V811.8H274.4Z"/>
<path d="M0.5 842V0.5H600" fill="none" stroke="#000" stroke-width="1"/>
<path class="gl" d="M389 0V405.2H600"/>
<path class="gl" d="M600 438.1H389V842"/>
</svg>
</body>
</html>
